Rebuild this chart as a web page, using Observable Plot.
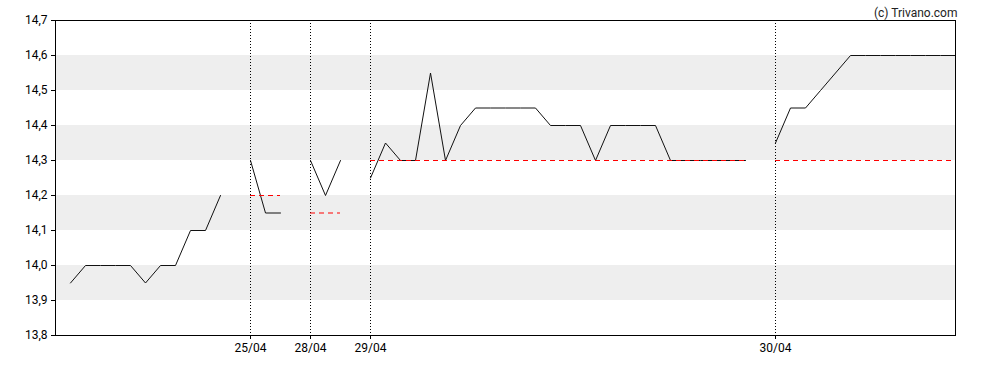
<!DOCTYPE html>
<html>
<head>
<meta charset="utf-8">
<script src="https://cdn.jsdelivr.net/npm/d3@7"></script>
<script src="https://cdn.jsdelivr.net/npm/@observablehq/plot@0.6"></script>
<style>
  html, body { margin: 0; padding: 0; background: #fff; }
  #chart { width: 988px; height: 370px; }
  svg { font-family: Roboto, "Liberation Sans", sans-serif; }
</style>
</head>
<body>
<div id="chart"></div>
<script>
// Day labels (first day has no tick label)
const dayLabels = ["24/04", "25/04", "28/04", "29/04", "30/04"];
// Price series per day
const day0 = [13.95, 14.0, 14.0, 14.0, 14.0, 13.95, 14.0, 14.0, 14.1, 14.1, 14.2];
const day1 = [14.3, 14.15, 14.15];
const day2 = [14.3, 14.2, 14.3];
const day3 = [14.25, 14.35, 14.3, 14.3, 14.55, 14.3, 14.4, 14.45, 14.45, 14.45, 14.45, 14.45, 14.4,
              14.4, 14.4, 14.3, 14.4, 14.4, 14.4, 14.4, 14.3, 14.3, 14.3, 14.3, 14.3, 14.3];
const day4 = [14.35, 14.45, 14.45, 14.5, 14.55, 14.6, 14.6, 14.6, 14.6, 14.6, 14.6, 14.6, 14.6];
// Previous close reference per day (null = none)
const refValues = [null, 14.2, 14.15, 14.3, 14.3];
// Y ticks
const yTicks = [13.8, 13.9, 14.0, 14.1, 14.2, 14.3, 14.4, 14.5, 14.6, 14.7];
// Shaded bands
const bandLo = [13.9, 14.1, 14.3, 14.5];
const bandHi = [14.0, 14.2, 14.4, 14.6];

const days = [day0, day1, day2, day3, day4];
const points = [];
const dayInfo = [];
let idx = 0;
days.forEach((arr, d) => {
  const start = idx;
  arr.forEach((v, k) => points.push({i: start + k, v, day: d}));
  const end = start + arr.length - 1;
  dayInfo.push({day: d, start, end, label: dayLabels[d], ref: refValues[d]});
  idx = end + 2;
});
const lastIdx = idx - 2;
const bands = bandLo.map((lo, k) => ({lo, hi: bandHi[k]}));
const tickDays = dayInfo.slice(1);
const refs = dayInfo.filter(d => d.ref != null);

const fmt = v => d3.format(".1f")(v).replace(".", ",");

const chart = Plot.plot({
  width: 988,
  height: 370,
  marginTop: 20,
  marginBottom: 35,
  marginLeft: 55,
  marginRight: 33,
  style: {fontFamily: "Roboto, 'Liberation Sans', sans-serif", fontSize: "12px", color: "#000", background: "#fff"},
  x: {domain: [-1, lastIdx], axis: null},
  y: {domain: [13.8, 14.7], axis: null},
  marks: [
    Plot.rect(bands, {y1: "lo", y2: "hi", fill: "#eeeeee"}),
    Plot.ruleX(tickDays, {x: "start", stroke: "#000", strokeDasharray: "1,2", strokeWidth: 1}),
    Plot.line(points, {x: "i", y: "v", z: "day", stroke: "#111", strokeWidth: 1}),
    Plot.ruleY(refs, {y: "ref", x1: "start", x2: "end", stroke: "#ff0000", strokeDasharray: "5,4", strokeWidth: 1}),
    Plot.frame({stroke: "#000"}),
    Plot.axisY(yTicks, {tickSize: 4, tickPadding: 4, tickFormat: fmt, fontSize: 12}),
    Plot.axisX(tickDays.map(d => d.start), {tickSize: 4, tickPadding: 4,
      tickFormat: v => (tickDays.find(d => d.start === v) || {}).label, fontSize: 12}),
    Plot.text(["(c) Trivano.com"], {frameAnchor: "top-right", dy: -12, dx: 2, text: d => d, fontSize: 12, textAnchor: "end", fill: "#222"})
  ]
});
document.getElementById("chart").appendChild(chart);
</script>
</body>
</html>
